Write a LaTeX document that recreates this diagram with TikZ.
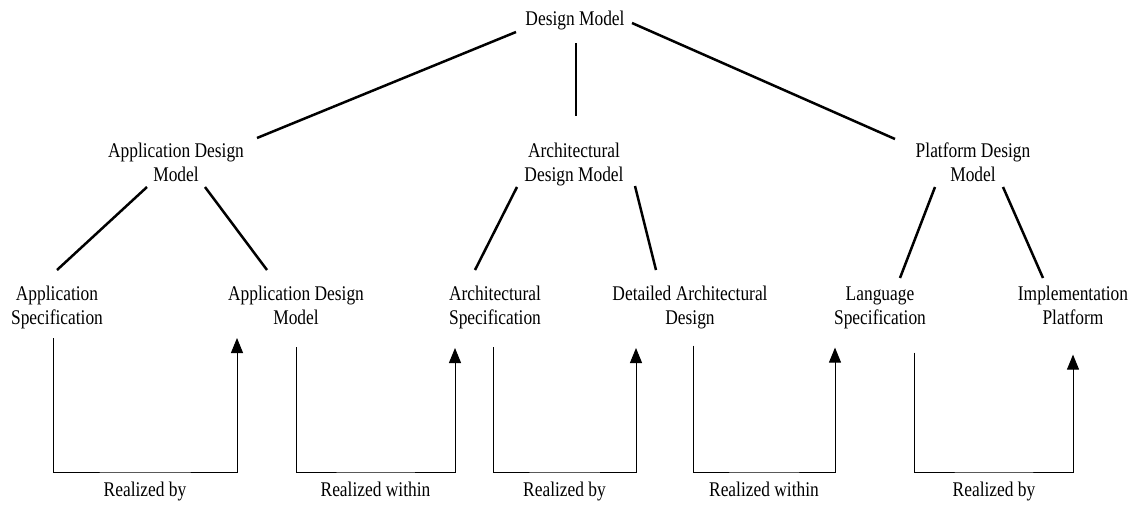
\documentclass[tikz,border=0pt]{standalone}
\usepackage{fontspec}
\setmainfont{Liberation Serif}
\usepackage{graphicx}
\usetikzlibrary{arrows.meta}
% tall, slightly condensed serif labels, one or more centred lines
\newcommand{\tallbox}[1]{\scalebox{1}[1.2]{\fontsize{17.4}{20.5}\selectfont\begin{tabular}{@{}c@{}}#1\end{tabular}}}

\begin{document}
\begin{tikzpicture}[x=1pt,y=-1pt,
  lbl/.style={inner sep=0pt, outer sep=0pt},
  branch/.style={line width=2.5pt},
  realize/.style={line width=1pt, -{Triangle[length=15pt,width=12pt]}}]
\useasboundingbox (0,0) rectangle (1133,506);

% root
\node[lbl] (dm) at (575,21) {\tallbox{Design Model}};

% second level
\node[lbl] (adm)  at (176,164.6) {\tallbox{Application Design\\Model}};
\node[lbl] (arch) at (574,164.6) {\tallbox{Architectural\\Design Model}};
\node[lbl] (pdm)  at (973,164.6) {\tallbox{Platform Design\\Model}};

% third level
\node[lbl] (aspec)  at (57,307.6)   {\tallbox{Application\\Specification}};
\node[lbl] (adm2)   at (296,307.6)  {\tallbox{Application Design\\Model}};
\node[lbl] (arspec) at (495,307.6)  {\tallbox{Architectural\\Specification}};
\node[lbl] (detail) at (690,307.6)  {\tallbox{Detailed Architectural\\Design}};
\node[lbl] (lang)   at (880,307.6)  {\tallbox{Language\\Specification}};
\node[lbl] (impl)   at (1073,307.6) {\tallbox{Implementation\\Platform}};

% relation labels
\node[lbl] (r1) at (145,492)   {\tallbox{Realized by}};
\node[lbl] (r2) at (375.5,492) {\tallbox{Realized within}};
\node[lbl] (r3) at (564.5,492) {\tallbox{Realized by}};
\node[lbl] (r4) at (764,492)   {\tallbox{Realized within}};
\node[lbl] (r5) at (994,492)   {\tallbox{Realized by}};

% tree branches
\draw[branch] ([shift={(-59,11)}]dm.center) -- ([shift={(81,-26.6)}]adm.center);
\draw[branch] ([shift={(1,22)}]dm.center) -- ([shift={(2,-48.6)}]arch.center);
\draw[branch] ([shift={(57,2)}]dm.center) -- ([shift={(-78,-25.6)}]pdm.center);

\draw[branch] ([shift={(-29,22.4)}]adm.center) -- ([shift={(0,-37.6)}]aspec.center);
\draw[branch] ([shift={(29,22.4)}]adm.center) -- ([shift={(-29,-37.6)}]adm2.center);
\draw[branch] ([shift={(-57,22.4)}]arch.center) -- ([shift={(-20,-37.6)}]arspec.center);
\draw[branch] ([shift={(61,21.4)}]arch.center) -- ([shift={(-34,-37.6)}]detail.center);
\draw[branch] ([shift={(-38,22.4)}]pdm.center) -- ([shift={(20,-29.6)}]lang.center);
\draw[branch] ([shift={(30,22.4)}]pdm.center) -- ([shift={(-30,-29.6)}]impl.center);

% realisation links
\draw[realize] ([shift={(-4,30.4)}]aspec.center) |- ([shift={(0,-20)}]r1.center)
  -| ([shift={(-59,30.4)}]adm2.center);
\draw[realize] ([shift={(0,39.4)}]adm2.center) |- ([shift={(0,-20)}]r2.center)
  -| ([shift={(-40,40.4)}]arspec.center);
\draw[realize] ([shift={(-2,39.4)}]arspec.center) |- ([shift={(0,-20)}]r3.center)
  -| ([shift={(-54,40.4)}]detail.center);
\draw[realize] ([shift={(3,38)}]detail.center) |- ([shift={(0,-20)}]r4.center)
  -| ([shift={(-45,40)}]lang.center);
\draw[realize] ([shift={(34,45)}]lang.center) |- ([shift={(0,-20)}]r5.center)
  -| ([shift={(0,47)}]impl.center);
\end{tikzpicture}
\end{document}
